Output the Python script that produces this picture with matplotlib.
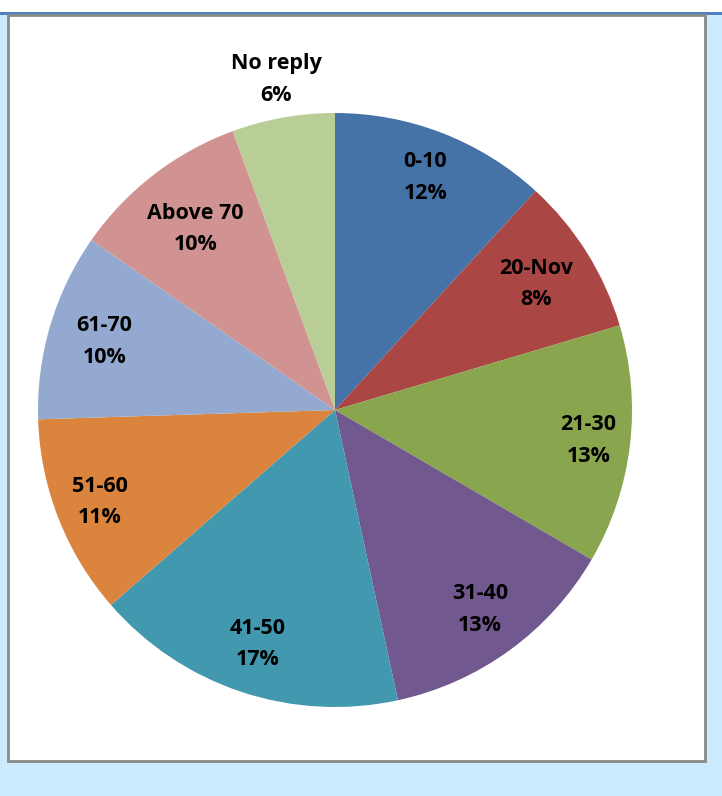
import matplotlib
matplotlib.use("Agg")
import matplotlib.pyplot as plt
from matplotlib.patches import Rectangle
import numpy as np

categories = ["0-10", "20-Nov", "21-30", "31-40", "41-50", "51-60", "61-70", "Above 70", "No reply"]
values = [11.8, 8.6, 13.0, 13.2, 17.0, 10.9, 10.2, 9.7, 5.6]
pct_labels = ["12%", "8%", "13%", "13%", "17%", "11%", "10%", "10%", "6%"]
colors = ["#4572A7", "#AA4643", "#89A54E", "#71588F", "#4198AF",
          "#DB843D", "#93A9CF", "#D19392", "#B9CD96"]
label_radius = [0.84, 0.80, 0.86, 0.83, 0.83, 0.85, 0.81, 0.77, 1.13]

W, H = 722, 796
fig = plt.figure(figsize=(W / 100, H / 100), dpi=100)
fig.patch.set_facecolor("#CCEBFE")

def px_rect(x0, y0, x1, y1, **kw):
    return Rectangle((x0 / W, 1 - y1 / H), (x1 - x0) / W, (y1 - y0) / H,
                     transform=fig.transFigure, zorder=-5, **kw)

fig.patches.append(px_rect(0, 0, W, 12, facecolor="white", edgecolor="none"))
fig.patches.append(px_rect(0, 12, W, 15, facecolor="#4F81BD", edgecolor="none"))
fig.patches.append(px_rect(8, 15, 705, 761, facecolor="white", edgecolor="#898989", linewidth=2))

cx, cy, r = 335, 410, 297
ax = fig.add_axes([(cx - r) / W, 1 - (cy + r) / H, 2 * r / W, 2 * r / H])
ax.set_zorder(5)
ax.patch.set_visible(False)

wedges, _ = ax.pie(values, colors=colors, startangle=90, counterclock=False,
                   radius=1.0, wedgeprops=dict(linewidth=0))
ax.set_xlim(-1, 1)
ax.set_ylim(-1, 1)
ax.axis("off")

for w, cat, pct, lr in zip(wedges, categories, pct_labels, label_radius):
    ang = np.deg2rad((w.theta1 + w.theta2) / 2)
    x, y = lr * np.cos(ang), lr * np.sin(ang)
    ax.text(x, y, f"{cat}\n{pct}", ha="center", va="center",
            fontsize=15.5, fontweight="bold", family=["Open Sans", "DejaVu Sans"],
            linespacing=1.65, color="black")

fig.savefig("out.png", dpi=100, facecolor=fig.get_facecolor())
